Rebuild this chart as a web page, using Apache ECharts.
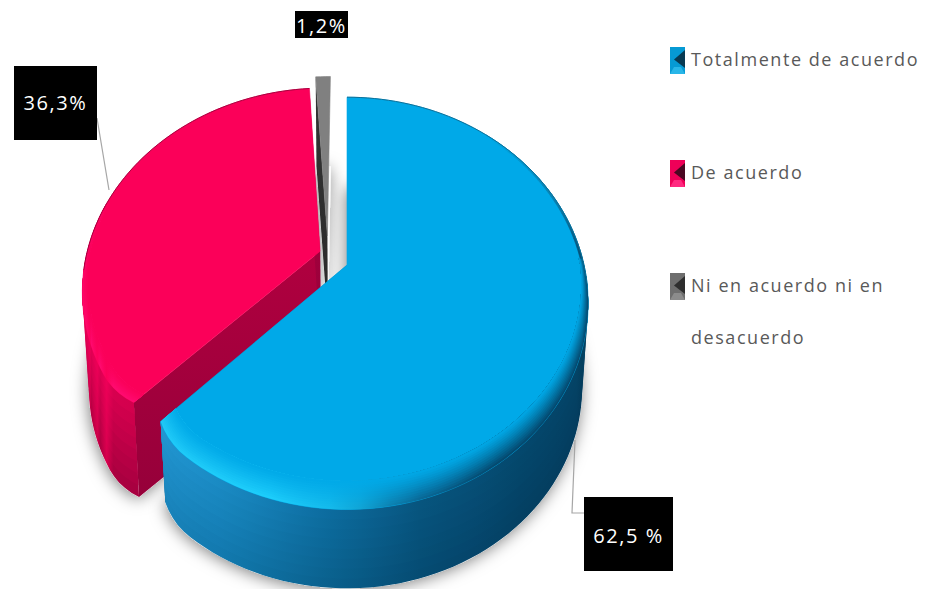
<!DOCTYPE html>
<html lang="es">
<head>
<meta charset="utf-8">
<title>Grado de acuerdo</title>
<script src="https://cdn.jsdelivr.net/npm/echarts@6/dist/echarts.min.js"></script>
<style>
  html, body { margin: 0; padding: 0; background: #fff; }
  #chart { width: 927px; height: 589px; overflow: hidden; }
  #chart text { letter-spacing: 1.55px; }
</style>
</head>
<body>
<div id="chart"></div>
<script>
// Survey answers, as percentages
const categories = ['Totalmente de acuerdo', 'De acuerdo', 'Ni en acuerdo ni en\ndesacuerdo'];
const shares = [62.5, 36.3, 1.2];
const shareLabels = ['62,5 %', '36,3%', '1,2%'];

// Tilted-disc projection of the pie
const disc = { x: 347, y: 265, a: 237, b: 199, k: 0.186, shrink: 0.975 };
const RAD = Math.PI / 180;

// Per-slice look: how far it is pulled out, its colours, and its callout
const looks = [
  { eu: 0, ev: 0, r: 1, depth: 85, face: '#00a9e8', edgeLine: '#0b6f98', cut: ['#0a6a98', '#085a84'],
    box: [584, 497, 89, 74], textAt: [628.5, 535], leader: [[575, 440], [572, 513], [584, 513]] },
  { eu: -0.115, ev: 0.07, r: 0.995, depth: 98, face: '#fb0059', edgeLine: '#a8003e', cut: ['#b0003f', '#96003a'],
    box: [14, 66, 83, 74], textAt: [55.5, 102], leader: [[97, 118], [109, 190]] },
  { eu: -0.085, ev: 0.15, r: 1, depth: 85, face: '#808080', edgeLine: '#6a6a6a', cut: ['#333333', '#2b2b2b'],
    box: [295, 11, 53, 27], textAt: [321.5, 25], leader: null }
];

const lerp = (a, b, t) => a + (b - a) * t;
function hex(c) { return [1, 3, 5].map(i => parseInt(c.slice(i, i + 2), 16)); }
function mix(c1, c2, t) {
  const p = hex(c1), q = hex(c2);
  return '#' + p.map((v, i) => Math.round(lerp(v, q[i], t)).toString(16).padStart(2, '0')).join('');
}
// Piecewise colour ramp over the clockwise angle (degrees)
function ramp(stops, deg) {
  if (deg <= stops[0][0]) return stops[0][1];
  for (let i = 1; i < stops.length; i++) {
    if (deg <= stops[i][0]) {
      const t = (deg - stops[i - 1][0]) / (stops[i][0] - stops[i - 1][0]);
      return mix(stops[i - 1][1], stops[i][1], t);
    }
  }
  return stops[stops.length - 1][1];
}

// Shading of outer wall (top, bottom) and of the rounded rim, by angle.
// wallArc and rimArc are the angle ranges that can face the viewer.
const shading = [
  {
    wallArc: [88, 225], rimArc: [88, 225], upperRim: [42, 88],
    wallA: [[88, '#03405f'], [140, '#04486d'], [165, '#07557f'], [185, '#0d6fa3'], [205, '#1a8cc6'], [225, '#2398d4']],
    wallB: [[88, '#033a5a'], [140, '#043f62'], [165, '#054b72'], [185, '#0a628f'], [205, '#1279ae'], [225, '#1a86bd']],
    rim: [[42, '#00a9e8'], [70, '#0a7fae'], [90, '#044a70'], [150, '#044a70'], [168, '#0a6f9f'], [180, '#12b4e6'], [195, '#1ccdfb'], [225, '#20c8f6']]
  },
  {
    wallArc: [225, 285], rimArc: [225, 285], upperRim: null,
    wallA: [[225, '#d9004f'], [250, '#ea0058'], [285, '#f00059']],
    wallB: [[225, '#a80040'], [250, '#b80042'], [285, '#d8004e']],
    rim: [[225, '#ff0a70'], [250, '#ff0a70'], [285, '#fb0059']]
  },
  null
];

// Cumulative start and end of every slice, clockwise from twelve o'clock
const total = shares.reduce((s, v) => s + v, 0);
const spans = [];
shares.reduce((acc, v) => {
  const next = acc + v;
  spans.push([
    echarts.number.linearMap(acc, [0, total], [0, 360]),
    echarts.number.linearMap(next, [0, total], [0, 360])
  ]);
  return next;
}, 0);
// The corner shared by the two big slices is slightly rounded off
const cornerAt = spans[0][1];

// f = 0 is the top surface, f = 1 the underside of the slice
function project(look, u, v, f) {
  const w = 1 + disc.k * v;
  const s = lerp(1, disc.shrink, f);
  return [
    disc.x + disc.a * s * u / w,
    disc.y + look.depth * f - disc.b * s * v / w
  ];
}
function onSlice(look, deg, r, f) {
  const near = Math.max(0, 1 - Math.abs(deg - cornerAt) / 10);
  const rr = look.r * r - 0.03 * near * near * r;
  return project(look, look.eu + rr * Math.sin(deg * RAD), look.ev + rr * Math.cos(deg * RAD), f);
}
function arcDegrees(a0, a1, step) {
  const n = Math.max(2, Math.ceil((a1 - a0) / step));
  const out = [];
  for (let i = 0; i <= n; i++) out.push(a0 + (a1 - a0) * i / n);
  return out;
}
function apex(look, f) { return project(look, look.eu, look.ev, f); }
function sectorPoints(look, a0, a1, f) {
  return [apex(look, f)].concat(arcDegrees(a0, a1, 2).map(d => onSlice(look, d, 1, f)));
}
function vertical(c1, c2) {
  return new echarts.graphic.LinearGradient(0, 0, 0, 1, [
    { offset: 0, color: c1 }, { offset: 1, color: c2 }
  ]);
}
// Horizontal page-space gradient following a colour function along an arc
function alongArc(look, a0, a1, colorAt) {
  const samples = arcDegrees(a0, a1, 6).map(d => ({ x: onSlice(look, d, 1, 0)[0], color: colorAt(d) }));
  samples.sort((p, q) => p.x - q.x);
  const xMin = samples[0].x, xMax = samples[samples.length - 1].x;
  return new echarts.graphic.LinearGradient(xMin, 0, xMax, 0,
    samples.map(p => ({ offset: (p.x - xMin) / (xMax - xMin), color: p.color })), true);
}
function poly(points, fill, stroke) {
  return { type: 'polygon', shape: { points }, silent: true,
    style: { fill, stroke: stroke || null, lineWidth: stroke ? 0.6 : 0 } };
}

// Soft ground shadow, laid under every slice
function renderShadow(params, api) {
  const i = api.value(0);
  const [a0, a1] = spans[i];
  return {
    type: 'polygon', silent: true,
    shape: { points: sectorPoints(looks[i], a0, a1, 1) },
    style: { fill: '#ffffff', shadowBlur: 16, shadowColor: 'rgba(0,0,0,0.5)', shadowOffsetX: -1, shadowOffsetY: 2 }
  };
}

function renderSlice(params, api) {
  const i = api.value(0);
  const look = looks[i];
  const shade = shading[i];
  const [a0, a1] = spans[i];
  const children = [];

  // radial cut walls sit behind the outer wall
  const cutAngles = i === 2 ? [a0] : [a0, a1];
  cutAngles.forEach(d => {
    children.push(poly([apex(look, 0), onSlice(look, d, 1, 0), onSlice(look, d, 1, 1), apex(look, 1)],
      vertical(look.cut[0], look.cut[1])));
  });

  // outer wall: nested strips from the full height upwards, so no seams show
  if (shade) {
    const [w0, w1] = shade.wallArc;
    const layers = 8;
    const degs = arcDegrees(w0, w1, 2);
    for (let n = layers; n >= 1; n--) {
      const f = n / layers;
      const top = degs.map(d => onSlice(look, d, 1, 0));
      const low = degs.map(d => onSlice(look, d, 1, f)).reverse();
      children.push(poly(top.concat(low),
        alongArc(look, w0, w1, d => mix(ramp(shade.wallA, d), ramp(shade.wallB, d), f))));
    }
  }

  // flat top
  children.push(poly(sectorPoints(look, a0, a1, 0), look.face, look.face));

  // rounded rim, also nested: outermost band first, each next one closer to the face colour
  if (shade) {
    const widthAt = d => {
      const front = Math.max(0, -Math.cos(d * RAD));
      const side = Math.max(0, Math.sin(d * RAD));
      return i === 0 ? 0.012 + 0.085 * front + 0.004 * side : 0.012 + 0.05 * front;
    };
    const [r0, r1] = shade.rimArc;
    const degs = arcDegrees(r0, r1, 2);
    const bands = 12;
    for (let b = bands; b >= 1; b--) {
      const t = b / bands;
      const outer = degs.map(d => onSlice(look, d, 1 - widthAt(d) * (1 - t), 0));
      const inner = degs.map(d => onSlice(look, d, 1 - widthAt(d), 0)).reverse();
      children.push(poly(outer.concat(inner),
        alongArc(look, r0, r1, d => mix(look.face, ramp(shade.rim, d), Math.pow(t, 1.2)))));
    }
    // the fading stretch on the far side of the rim
    if (shade.upperRim) {
      const [u0, u1] = shade.upperRim;
      const segs = arcDegrees(u0, u1, 2);
      for (let j = 0; j < segs.length - 1; j++) {
        const mid = (segs[j] + segs[j + 1]) / 2;
        const ws = widthAt(mid) * 0.6;
        const col = ramp(shade.rim, mid);
        children.push(poly([onSlice(look, segs[j], 1 - ws, 0), onSlice(look, segs[j + 1], 1 - ws, 0),
          onSlice(look, segs[j + 1], 1, 0), onSlice(look, segs[j], 1, 0)], col, col));
      }
    }
  }

  // thin darker line along the far edge
  const backEdge = arcDegrees(a0, a1, 2).filter(d => Math.cos(d * RAD) > -0.1)
    .map(d => onSlice(look, d, 1, 0));
  if (backEdge.length > 1 && shade) {
    children.push({ type: 'polyline', silent: true, shape: { points: backEdge },
      style: { stroke: look.edgeLine, lineWidth: 1, fill: null } });
  }
  return { type: 'group', children };
}

// Black value callouts with their leader lines
function renderCallout(params, api) {
  const i = api.value(0);
  const look = looks[i];
  const children = [];
  if (look.leader) {
    children.push({ type: 'polyline', silent: true, shape: { points: look.leader },
      style: { stroke: '#a6a6a6', lineWidth: 1.2, fill: null } });
  }
  children.push({ type: 'rect', silent: true,
    shape: { x: look.box[0], y: look.box[1], width: look.box[2], height: look.box[3] },
    style: { fill: '#000000' } });
  children.push({ type: 'text', silent: true,
    style: { text: shareLabels[i], x: look.textAt[0], y: look.textAt[1],
      fill: '#ffffff', font: '20px "Open Sans", sans-serif', textAlign: 'center', textVerticalAlign: 'middle' } });
  return { type: 'group', children };
}

// Legend: bevelled swatches with spaced labels
const swatchTops = [47, 160, 273];
const swatchBase = ['#069ad4', '#ee0058', '#6e6e6e'];
const swatchLow = ['#29b6e8', '#ff2a80', '#8c8c8c'];
const swatchDark = ['#083a52', '#4a0822', '#2e2e2e'];

function legendGraphics() {
  const out = [];
  const x0 = 670, w = 15, h = 27, lineGap = 52;
  categories.forEach((name, i) => {
    const y0 = swatchTops[i];
    out.push({ type: 'rect', shape: { x: x0, y: y0, width: w, height: h },
      style: { fill: swatchBase[i] } });
    out.push({ type: 'polygon', shape: { points: [[x0, y0 + h], [x0 + w, y0 + h], [x0 + w - 4, y0 + h - 7], [x0 + 4, y0 + h - 7]] },
      style: { fill: swatchLow[i] } });
    out.push({ type: 'polygon', shape: { points: [[x0 + w, y0 + 3], [x0 + w, y0 + h - 6], [x0 + 4, y0 + h / 2 - 1]] },
      style: { fill: swatchDark[i] } });
    name.split('\n').forEach((line, n) => {
      out.push({ type: 'text', x: 691, y: y0 + 12 + n * lineGap,
        style: { text: line, fill: '#595959', font: '18px "Open Sans", sans-serif', textVerticalAlign: 'middle' } });
    });
  });
  return out;
}

// Painted back to front: smallest and farthest slice first
const drawOrder = [2, 1, 0];
const chart = echarts.init(document.getElementById('chart'), null, { renderer: 'svg' });
chart.setOption({
  animation: false,
  backgroundColor: '#ffffff',
  graphic: { elements: legendGraphics() },
  series: [
    { type: 'custom', coordinateSystem: 'none', name: 'sombra', z: 1, silent: true,
      renderItem: renderShadow, data: drawOrder.map(i => [i, shares[i]]) },
    { type: 'custom', coordinateSystem: 'none', name: 'respuestas', z: 2, silent: true,
      renderItem: renderSlice, data: drawOrder.map(i => [i, shares[i]]) },
    { type: 'custom', coordinateSystem: 'none', name: 'valores', z: 3, silent: true,
      renderItem: renderCallout, data: drawOrder.map(i => [i, shares[i]]) }
  ]
});
</script>
</body>
</html>
